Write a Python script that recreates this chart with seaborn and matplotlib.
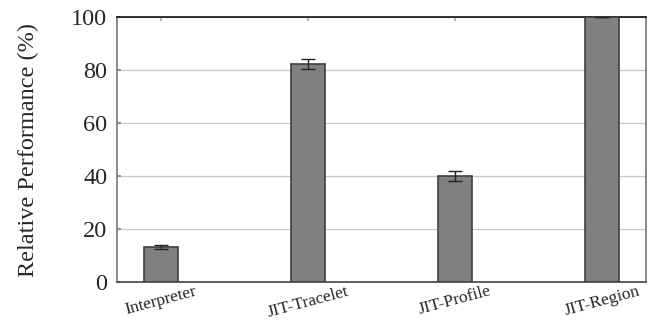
import matplotlib
matplotlib.use("Agg")
import matplotlib.pyplot as plt
import seaborn as sns
import numpy as np
import pandas as pd

categories = ["Interpreter", "JIT-Tracelet", "JIT-Profile", "JIT-Region"]
performance = [13.2, 82.2, 40.1, 100.0]
error = [0.9, 1.9, 1.9, 0.0]
y_ticks = [0, 20, 40, 60, 80, 100]

df = pd.DataFrame({"config": categories, "perf": performance})

sns.set_theme(style="white")
plt.rcParams["font.family"] = ["Liberation Serif", "DejaVu Serif"]

fig, ax = plt.subplots(figsize=(6.5, 3.23), dpi=100)
fig.subplots_adjust(left=0.18, right=0.994, top=0.947, bottom=0.127)

sns.barplot(data=df, x="config", y="perf", ax=ax, color="#808080",
            saturation=1, width=0.236, edgecolor="#404040", linewidth=1.2,
            zorder=3)
ax.errorbar(np.arange(len(categories)), performance, yerr=error, fmt="none",
            ecolor="#222222", elinewidth=1.0, capsize=5, capthick=1.0, zorder=4)

ax.set_xlim(-0.3, len(categories) - 0.7)
ax.set_ylim(0, 100)
ax.set_yticks(y_ticks)
ax.yaxis.grid(True, color="#c8c8c8", linewidth=0.9, zorder=0)
ax.set_axisbelow(True)

ax.set_xlabel("")
ax.set_ylabel("Relative Performance (%)", fontsize=17.5)
ax.yaxis.set_label_coords(-0.148, 0.5)
ax.tick_params(axis="y", labelsize=17.5, direction="in", length=3,
               color="#888888", left=True, pad=7)
ax.tick_params(axis="x", labelsize=12.5, direction="in", length=3,
               color="#aaaaaa", bottom=True, top=True, pad=1)
for lbl in ax.get_xticklabels():
    lbl.set_rotation(15)
    lbl.set_ha("center")

for name, sp in ax.spines.items():
    sp.set_visible(True)
    sp.set_linewidth(1.2)
ax.spines["top"].set_color("#111111")
ax.spines["bottom"].set_color("#444444")
ax.spines["left"].set_color("#777777")
ax.spines["right"].set_color("#777777")

fig.savefig("out.png", dpi=100)
